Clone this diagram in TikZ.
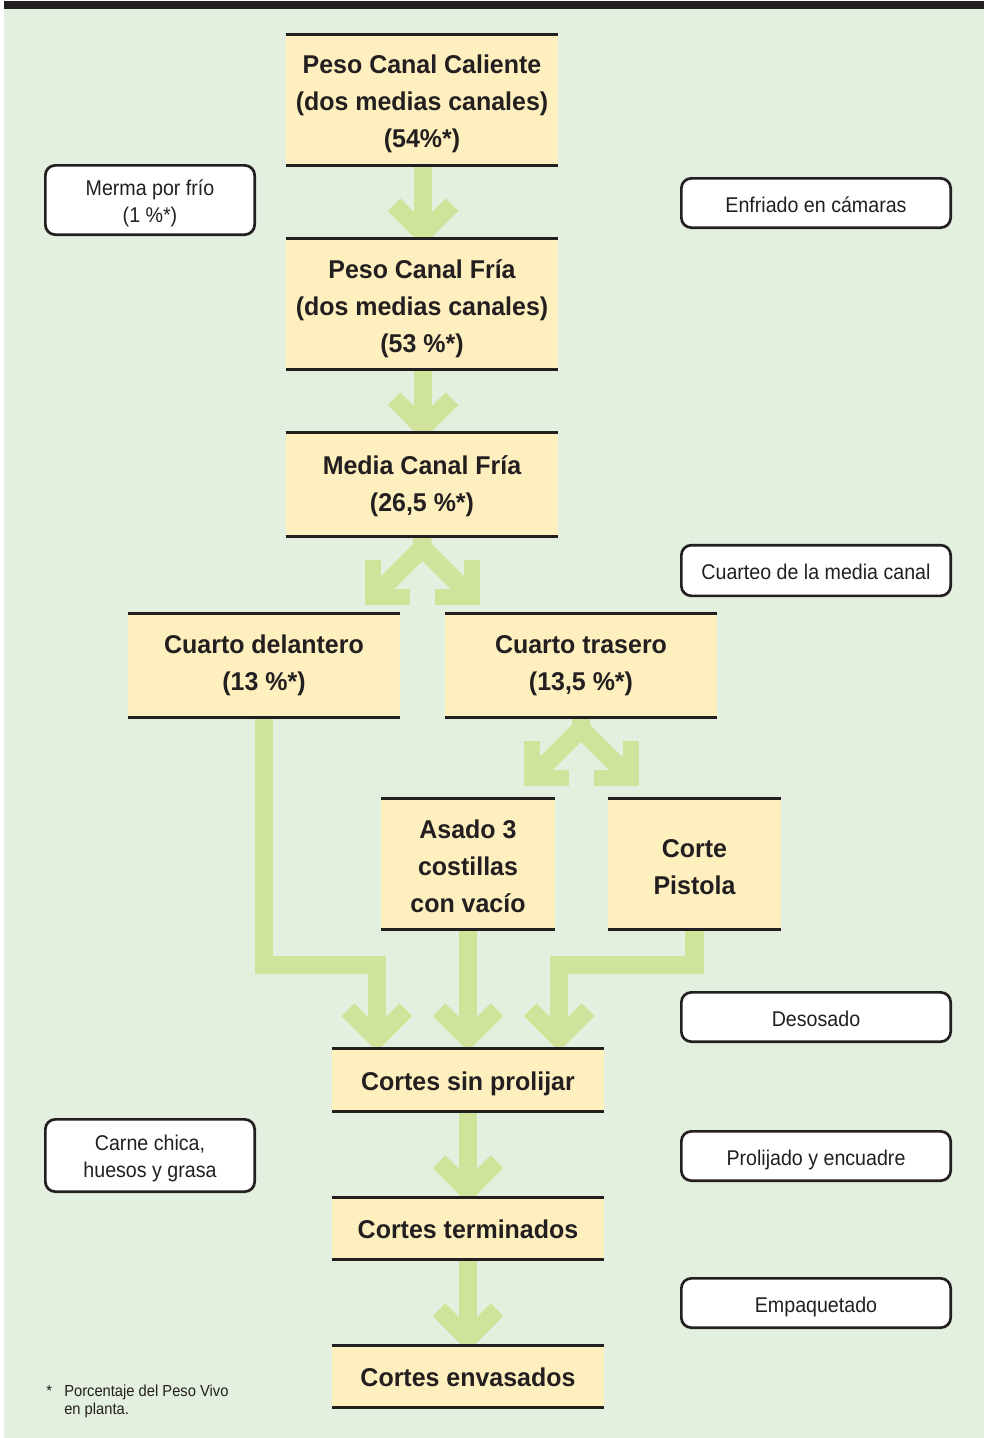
\documentclass[tikz,border=0pt]{standalone}
\usepackage{fontspec}
\setmainfont{Liberation Sans}[FakeStretch=0.92]
\newfontfamily\boldc{Liberation Sans}[FakeStretch=0.97]
\usetikzlibrary{calc}
\definecolor{bggreen}{RGB}{227,239,223}
\definecolor{boxyellow}{RGB}{253,239,190}
\definecolor{arrowgreen}{RGB}{208,227,154}
\definecolor{ink}{RGB}{35,31,32}
\pgfdeclarelayer{bg}
\pgfdeclarelayer{arr}
\pgfsetlayers{bg,arr,main}
\newcommand\chevron[1]{\draw[head] ($(#1)+(-29,-29)$) -- (#1) -- ($(#1)+(29,-29)$);}
\begin{document}
\begin{tikzpicture}[x=0.75pt,y=-0.75pt,
 mainbox/.style={fill=boxyellow, inner sep=0pt},
 maintext/.style={inner sep=0pt, align=center, text=ink, font=\boldc\bfseries\fontsize{19.3pt}{27.75pt}\selectfont},
 sidebox/.style={draw=ink, fill=white, line width=2pt, rounded corners=7.5pt, inner sep=0pt},
 rsidebox/.style={sidebox, minimum width=202pt, minimum height=37pt},
 sidetext/.style={inner sep=0pt, align=center, text=ink, font=\fontsize{16pt}{20.25pt}\selectfont},
 shaft/.style={draw=arrowgreen, line width=14pt, line join=miter},
 head/.style={draw=arrowgreen, line width=13.5pt, line join=miter},
 diag/.style={draw=arrowgreen, line width=14pt, line join=miter},
 lhead/.style={draw=arrowgreen, line width=12pt, line join=miter},
 rule/.style={draw=ink, line width=2.6pt}]
\useasboundingbox (0,0) rectangle (984,1438);
\begin{pgfonlayer}{bg}
\fill[white] (0,0) rectangle (984,1438);
\fill[bggreen] (4,9) rectangle (984,1438);
\fill[ink] (4,1) rectangle (984,9);
\end{pgfonlayer}

% main boxes
\node[mainbox, minimum width=204pt, minimum height=97.5pt] (b1) at (422,100) {};
\node[mainbox, minimum width=204pt, minimum height=97.5pt] (b2) at (422,304) {};
\node[mainbox, minimum width=204pt, minimum height=77.25pt] (b3) at (422,484.5) {};
\node[mainbox, minimum width=204pt, minimum height=77.25pt] (b4) at (264,665.5) {};
\node[mainbox, minimum width=204pt, minimum height=77.25pt] (b5) at (581,665.5) {};
\node[mainbox, minimum width=130.5pt, minimum height=97.5pt] (b6) at (468,864) {};
\node[mainbox, minimum width=129.75pt, minimum height=97.5pt] (b7) at (694.5,864) {};
\node[mainbox, minimum width=204pt, minimum height=46.5pt] (b8) at (468,1080) {};
\node[mainbox, minimum width=204pt, minimum height=45.75pt] (b9) at (468,1228.5) {};
\node[mainbox, minimum width=204pt, minimum height=45.75pt] (b10) at (468,1376.5) {};
\foreach \n in {b1,b2,b3,b4,b5,b6,b7,b8,b9,b10}
  \draw[rule] (\n.north west) -- (\n.north east) (\n.south west) -- (\n.south east);

\node[maintext] (t1) at ($(b1.center)+(0,4)$) {Peso Canal Caliente\\(dos medias canales)\\(54\%*)};
\node[maintext] (t2) at ($(b2.center)+(0,4.5)$) {Peso Canal Fría\\(dos medias canales)\\(53 \%*)};
\node[maintext] (t3) at ($(b3.center)+(0,2)$) {Media Canal Fría\\(26,5 \%*)};
\node[maintext] (t4) at ($(b4.center)+(0,0)$) {Cuarto delantero\\(13 \%*)};
\node[maintext] (t5) at ($(b5.center)+(0,0)$) {Cuarto trasero\\(13,5 \%*)};
\node[maintext] (t6) at ($(b6.center)+(0,2)$) {Asado 3\\costillas\\con vacío};
\node[maintext] (t7) at ($(b7.center)+(0,3)$) {Corte\\Pistola};
\node[maintext] (t8) at ($(b8.center)+(0,4)$) {Cortes sin prolijar};
\node[maintext] (t9) at ($(b9.center)+(0,1)$) {Cortes terminados};
\node[maintext] (t10) at ($(b10.center)+(0,1)$) {Cortes envasados};

% side boxes
\node[sidebox, minimum width=157pt, minimum height=52pt] (m1) at (150,200) {};
\node[sidebox, minimum width=157pt, minimum height=54.25pt] (m2) at (150,1155.5) {};
\node[rsidebox] (s1) at (816,203) {};
\node[rsidebox, minimum height=38pt] (s2) at (816,570.5) {};
\node[rsidebox] (s3) at (816,1017) {};
\node[rsidebox] (s4) at (816,1156) {};
\node[rsidebox] (s5) at (816,1303) {};
\node[sidetext] (mt1) at ($(m1.center)+(0,3)$) {Merma por frío\\(1 \%*)};
\node[sidetext] (mt2) at ($(m2.center)+(0,2.5)$) {Carne chica,\\huesos y grasa};
\node[sidetext] (st1) at ($(s1.center)+(0,2)$) {Enfriado en cámaras};
\node[sidetext] (st2) at ($(s2.center)+(0,1)$) {Cuarteo de la media canal};
\node[sidetext] (st3) at ($(s3.center)+(0,2)$) {Desosado};
\node[sidetext] (st4) at ($(s4.center)+(0,3.5)$) {Prolijado y encuadre};
\node[sidetext] (st5) at ($(s5.center)+(0,3.5)$) {Empaquetado};

% footnote
\node[anchor=north west, align=left, inner sep=0pt, text=ink, font=\fontsize{12pt}{13.5pt}\selectfont] (fn) at (46,1385)
  {\makebox[13.5pt][l]{*}Porcentaje del Peso Vivo\\\hspace*{13.5pt}en planta.};

% arrows
\begin{pgfonlayer}{arr}
\coordinate (v12) at ($(b2.north)+(1,-5)$);
\draw[shaft] ($(b1.south)+(1,0)$) -- (v12); \chevron{v12}
\coordinate (v23) at ($(b3.north)+(1,-5)$);
\draw[shaft] ($(b2.south)+(1,0)$) -- (v23); \chevron{v23}
\coordinate (v89) at ($(b9.north)+(0,-7)$);
\draw[shaft] (b8.south) -- (v89); \chevron{v89}
\coordinate (v910) at ($(b10.north)+(0,-7)$);
\draw[shaft] (b9.south) -- (v910); \chevron{v910}

% split from b3
\coordinate (j1) at ($(b3.south)+(0.5,11.5)$);
\coordinate (l1) at ($(j1)+(-57.5,57.5)$);
\coordinate (r1) at ($(j1)+(57.5,57.5)$);
\draw[shaft] (b3.south) -- (j1);
\draw[diag] ($(l1)+(12,-12)$) -- (j1) -- ($(r1)+(-12,-12)$);
\draw[lhead] ($(l1)+(8,-45)$) -- ($(l1)+(8,-8)$) -- ($(l1)+(45,-8)$);
\draw[lhead] ($(r1)+(-8,-45)$) -- ($(r1)+(-8,-8)$) -- ($(r1)+(-45,-8)$);

% split from b5
\coordinate (j2) at ($(b5.south)+(0,11.5)$);
\coordinate (l2) at ($(j2)+(-57.5,57.5)$);
\coordinate (r2) at ($(j2)+(57.5,57.5)$);
\draw[shaft] (b5.south) -- (j2);
\draw[diag] ($(l2)+(12,-12)$) -- (j2) -- ($(r2)+(-12,-12)$);
\draw[lhead] ($(l2)+(8,-45)$) -- ($(l2)+(8,-8)$) -- ($(l2)+(45,-8)$);
\draw[lhead] ($(r2)+(-8,-45)$) -- ($(r2)+(-8,-8)$) -- ($(r2)+(-45,-8)$);

% merge into b8
\coordinate (hm) at (0,965);
\coordinate (va) at ($(b8.north)+(-91,-10)$);
\coordinate (vb) at ($(b8.north)+(0,-10)$);
\coordinate (vc) at ($(b8.north)+(91,-10)$);
\draw[shaft] (b4.south) -- (b4.south |- hm) -- (va |- hm) -- (va); \chevron{va}
\draw[shaft] (b6.south) -- (vb); \chevron{vb}
\draw[shaft] (b7.south) -- (b7.south |- hm) -- (vc |- hm) -- (vc); \chevron{vc}
\end{pgfonlayer}
\end{tikzpicture}
\end{document}
